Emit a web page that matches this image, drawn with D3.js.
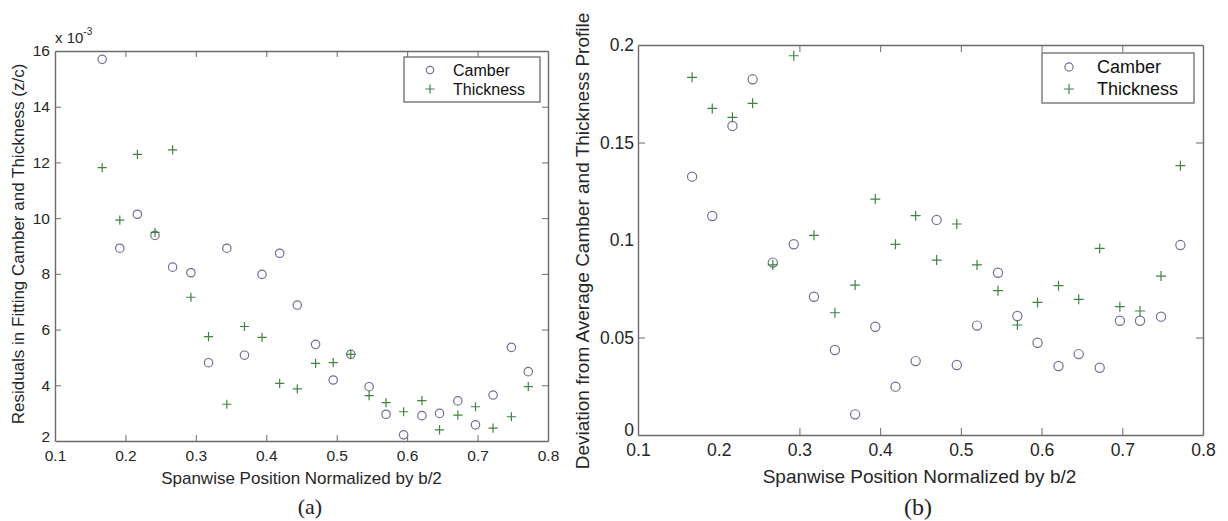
<!DOCTYPE html>
<html>
<head>
<meta charset="utf-8">
<script src="https://cdn.jsdelivr.net/npm/d3@7"></script>
<style>
  html, body { margin: 0; padding: 0; background: #fff; }
  svg { display: block; }
  text { font-family: "Liberation Sans", Arial, sans-serif; }
</style>
</head>
<body>
<svg id="chart" width="1228" height="521"></svg>
<script>
// ---------- data ----------
const spanPos = [0.167, 0.192, 0.217, 0.242, 0.267, 0.293, 0.318, 0.344, 0.369, 0.394, 0.419, 0.444, 0.470,
                 0.495, 0.520, 0.546, 0.570, 0.595, 0.621, 0.646, 0.672, 0.697, 0.722, 0.748, 0.772];

// (a) residuals, units of 1e-3
const residCamber = [15.70, 8.92, 10.14, 9.38, 8.24, 8.04, 4.81, 8.92, 5.08, 7.98, 8.74, 6.88, 5.47,
                     4.19, 5.11, 3.95, 2.96, 2.22, 2.91, 2.99, 3.44, 2.58, 3.65, 5.36, 4.49];
const residThickness = [11.81, 9.93, 12.29, 9.49, 12.45, 7.16, 5.75, 3.32, 6.11, 5.72, 4.07, 3.87, 4.79,
                        4.81, 5.11, 3.63, 3.38, 3.05, 3.45, 2.40, 2.93, 3.23, 2.46, 2.87, 3.95];

// (b) deviation from average profile
const devCamber = [0.1325, 0.1123, 0.1585, 0.1824, 0.0884, 0.0978, 0.0709, 0.0436, 0.0106, 0.0555, 0.0248, 0.0379, 0.1103,
                   0.0359, 0.0561, 0.0832, 0.0610, 0.0473, 0.0354, 0.0415, 0.0345, 0.0586, 0.0586, 0.0607, 0.0974];
const devThickness = [0.1834, 0.1675, 0.1629, 0.1701, 0.0872, 0.1945, 0.1024, 0.0627, 0.0769, 0.1210, 0.0978, 0.1125, 0.0897,
                      0.1082, 0.0872, 0.0740, 0.0564, 0.0680, 0.0766, 0.0696, 0.0957, 0.0658, 0.0636, 0.0815, 0.1381];

const xTicks = [0.1, 0.2, 0.3, 0.4, 0.5, 0.6, 0.7, 0.8];
const yTicksA = [2, 4, 6, 8, 10, 12, 14, 16];
const yTicksB = [0, 0.05, 0.1, 0.15, 0.2];
const yTickLabelsB = ["0", "0.05", "0.1", "0.15", "0.2"];
const legendLabels = ["Camber", "Thickness"];
const xLabel = "Spanwise Position Normalized by b/2";
const yLabelA = "Residuals in Fitting Camber and Thickness (z/c)";
const yLabelB = "Deviation from Average Camber and Thickness Profile";

// ---------- styles ----------
const circleColor = "#6f6f9a";
const plusColor = "#3f8540";
const axisColor = "#6a6a6a";
const textColor = "#262626";

const svg = d3.select("#chart");
svg.append("rect").attr("width", 1228).attr("height", 521).attr("fill", "#fff");

function panel(cfg) {
  const g = svg.append("g");
  const x = d3.scaleLinear().domain([0.1, 0.8]).range([cfg.left, cfg.right]);
  const y = d3.scaleLinear().domain(cfg.yDomain).range([cfg.bottom, cfg.top]);

  const ax = (axis, tr) => {
    const a = g.append("g").attr("transform", tr).call(axis);
    a.select(".domain").attr("stroke", axisColor).attr("stroke-width", 1.4);
    a.selectAll(".tick line").attr("stroke", axisColor).attr("stroke-width", 1);
    a.selectAll(".tick text").attr("fill", textColor)
      .style("font-family", '"Liberation Sans", Arial, sans-serif')
      .style("font-size", cfg.tickFont + "px");
    return a;
  };
  ax(d3.axisBottom(x).tickValues(xTicks).tickFormat(d => String(d))
      .tickSizeInner(-cfg.tick).tickSizeOuter(0).tickPadding(cfg.xPad),
     `translate(0,${cfg.bottom})`);
  ax(d3.axisTop(x).tickValues(xTicks).tickFormat("")
      .tickSizeInner(-cfg.tick).tickSizeOuter(0),
     `translate(0,${cfg.top})`);
  const yl = ax(d3.axisLeft(y).tickValues(cfg.yTicks).tickFormat((d, i) => cfg.yLabels[i])
      .tickSizeInner(-cfg.tick).tickSizeOuter(0).tickPadding(cfg.yPad),
     `translate(${cfg.left},0)`);
  ax(d3.axisRight(y).tickValues(cfg.yTicks).tickFormat("")
      .tickSizeInner(-cfg.tick).tickSizeOuter(0),
     `translate(${cfg.right},0)`);

  // lowest y label sits slightly raised above the first x label (as in the figure)
  yl.selectAll(".tick text").filter(d => d === cfg.yDomain[0]).attr("dy", "0.05em");

  // no inner tick marks at the box corners
  g.selectAll(".tick line").filter(function(d) {
    return d === 0.1 || d === 0.8 || d === cfg.yDomain[0] || d === cfg.yDomain[1];
  }).remove();

  // markers
  const cData = spanPos.map((s, i) => ({x: s, y: cfg.camber[i]}));
  const tData = spanPos.map((s, i) => ({x: s, y: cfg.thick[i]}));
  g.selectAll("circle.c").data(cData).join("circle")
    .attr("cx", d => x(d.x)).attr("cy", d => y(d.y)).attr("r", cfg.r)
    .attr("fill", "none").attr("stroke", circleColor).attr("stroke-width", 1.2);
  g.selectAll("path.t").data(tData).join("path")
    .attr("d", d => `M${x(d.x) - cfg.p},${y(d.y)}H${x(d.x) + cfg.p}M${x(d.x)},${y(d.y) - cfg.p}V${y(d.y) + cfg.p}`)
    .attr("stroke", plusColor).attr("stroke-width", 1.2).attr("fill", "none");

  // legend
  const L = cfg.legend;
  g.append("rect").attr("x", L.x0).attr("y", L.y0).attr("width", L.x1 - L.x0).attr("height", L.y1 - L.y0)
    .attr("fill", "#fff").attr("stroke", axisColor).attr("stroke-width", 1.3);
  g.append("circle").attr("cx", L.mx).attr("cy", L.ys[0]).attr("r", cfg.r - 0.5)
    .attr("fill", "none").attr("stroke", circleColor).attr("stroke-width", 1.2);
  g.append("path").attr("d", `M${L.mx - cfg.p},${L.ys[1]}H${L.mx + cfg.p}M${L.mx},${L.ys[1] - cfg.p}V${L.ys[1] + cfg.p}`)
    .attr("stroke", plusColor).attr("stroke-width", 1.2);
  legendLabels.forEach((t, i) => {
    g.append("text").attr("x", L.tx).attr("y", L.ys[i]).attr("dy", "0.35em")
      .attr("fill", "#111").style("font-size", L.font + "px").text(t);
  });

  // axis labels
  g.append("text").attr("x", (cfg.left + cfg.right) / 2 + cfg.xLabelDx).attr("y", cfg.xLabelY)
    .attr("text-anchor", "middle").attr("fill", textColor).style("font-size", cfg.labelFont + "px").text(xLabel);
  g.append("text").attr("transform", `translate(${cfg.yLabelX},${cfg.yLabelCY}) rotate(-90)`)
    .attr("text-anchor", "middle").attr("fill", textColor).style("font-size", cfg.labelFont + "px").text(cfg.yLabel);

  // panel caption
  g.append("text").attr("x", cfg.capX).attr("y", cfg.capY).attr("text-anchor", "middle")
    .style("font-family", '"Liberation Serif", "Times New Roman", serif')
    .style("font-size", cfg.capFont + "px").attr("fill", "#222").text(cfg.caption);
  return {x, y, g};
}

const A = panel({
  left: 55, right: 548, top: 51, bottom: 441, yDomain: [2, 16],
  yTicks: yTicksA, yLabels: yTicksA.map(String),
  camber: residCamber, thick: residThickness,
  tick: 6, tickFont: 15.5, xPad: 9, yPad: 5, r: 4.2, p: 4.6,
  legend: {x0: 404, x1: 540, y0: 57, y1: 102, mx: 430, tx: 453, ys: [70, 89], font: 16},
  labelFont: 17, xLabelDx: 0, xLabelY: 484, yLabel: yLabelA, yLabelX: 24, yLabelCY: 244,
  caption: "(a)", capX: 310, capY: 514, capFont: 22
});

// multiplier label for panel (a)
const mult = A.g.append("text").attr("x", 55).attr("y", 43).attr("fill", textColor).style("font-size", "15px");
mult.append("tspan").text("x 10");
mult.append("tspan").attr("dy", -8).style("font-size", "10px").text("-3");

const B = panel({
  left: 638, right: 1203, top: 45, bottom: 435, yDomain: [0, 0.2],
  yTicks: yTicksB, yLabels: yTickLabelsB,
  camber: devCamber, thick: devThickness,
  tick: 7, tickFont: 17.5, xPad: 9, yPad: 4, r: 4.6, p: 5,
  legend: {x0: 1042, x1: 1194, y0: 53, y1: 103, mx: 1069, tx: 1097, ys: [67, 89], font: 18},
  labelFont: 19, xLabelDx: -1, xLabelY: 483, yLabel: yLabelB, yLabelX: 589, yLabelCY: 241,
  caption: "(b)", capX: 918, capY: 515, capFont: 24
});
</script>
</body>
</html>
